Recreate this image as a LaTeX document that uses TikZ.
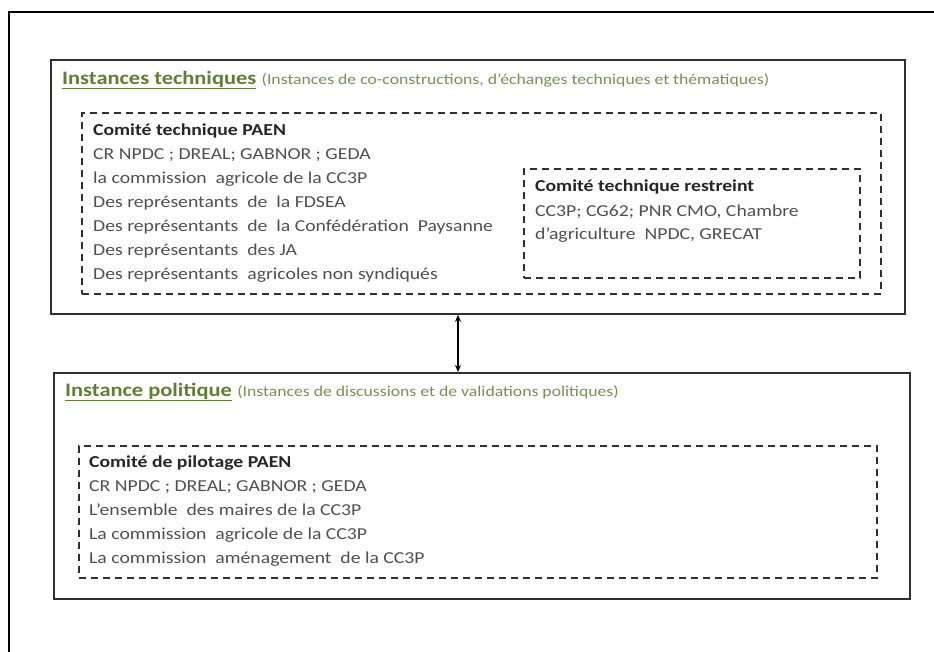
\documentclass[tikz,border=0pt]{standalone}
\usepackage{fontspec}
\setmainfont{Carlito}[FakeStretch=1.18]
\usetikzlibrary{positioning}
\usetikzlibrary{arrows.meta}

\definecolor{titlegreen}{HTML}{5F7F33}
\definecolor{bodygray}{HTML}{505050}
\definecolor{linegray}{HTML}{303030}

\begin{document}
\begin{tikzpicture}[
    x=1pt, y=-1pt,
    instbox/.style={
        draw=linegray,
        line width=1.8pt,
        anchor=north west,
        inner sep=0pt,
    },
    dashbox/.style={
        draw=linegray,
        line width=1.5pt,
        dash pattern=on 7pt off 5pt,
        anchor=north west,
        inner sep=0pt,
    },
    ttl/.style={
        anchor=west,
        inner sep=0pt,
        text=titlegreen,
        font=\fontsize{19}{22}\selectfont\bfseries,
    },
    sub/.style={
        anchor=west,
        inner sep=0pt,
        text=titlegreen!85,
        font=\fontsize{15}{17}\selectfont,
    },
    item/.style={
        anchor=base west,
        inner sep=0pt,
        text=bodygray,
        font=\fontsize{16.7}{20}\selectfont,
    },
    hd/.style={item,text=black!85,font=\fontsize{16.7}{20}\selectfont\bfseries},
]
    \useasboundingbox (0,0) rectangle (934,651);
    \fill[white] (0,0) rectangle (934,651);
    \clip (0,0) rectangle (934,651);
    % ~~~ outer frame ~~~~~~~~~~~~
    \draw[black, line width=1.3pt] (9,12) rectangle (960,680);
    % ~~~ technical instances ~~~~~~~~~~~~
    \node[instbox, minimum width=854pt, minimum height=254pt] (tech) at (50,59) {};
    \node[ttl] (techttl) at (62,80) {\underline{Instances techniques}};
    \node[sub, right=5pt of techttl] (techsub)
        {(Instances de co-constructions, d’échanges techniques et thématiques)};
    \node[dashbox, minimum width=799pt, minimum height=181pt] (ctp) at (81,112) {};
    \node[hd] (ctp-0) at (93,135) {Comité technique PAEN};
    \foreach \ln [count=\i] in {
        {CR NPDC ; DREAL; GABNOR ; GEDA},
        {la commission~ agricole de la CC3P},
        {Des représentants~ de~ la FDSEA},
        {Des représentants~ de~ la Confédération~ Paysanne},
        {Des représentants~ des JA},
        {Des représentants~ agricoles non syndiqués}}
        \node[item] (ctp-\i) at (93,{135+24*\i}) {\ln};
    \node[dashbox, minimum width=336pt, minimum height=109pt] (ctr) at (523,168) {};
    \node[hd] (ctr-0) at (535,191) {Comité technique restreint};
    \node[item] (ctr-1) at (535,216) {CC3P; CG62; PNR CMO, Chambre};
    \node[item] (ctr-2) at (535,239) {d’agriculture~ NPDC, GRECAT};
    % ~~~ political instance ~~~~~~~~~~~~
    \node[instbox, minimum width=856pt, minimum height=226pt] (pol) at (53,372) {};
    \node[ttl] (polttl) at (65,392) {\underline{Instance politique}};
    \node[sub, right=5pt of polttl] (polsub)
        {(Instances de discussions et de validations politiques)};
    \node[dashbox, minimum width=798pt, minimum height=132pt] (cpp) at (78,445) {};
    \node[hd] (cpp-0) at (89,467) {Comité de pilotage PAEN};
    \foreach \ln [count=\i] in {
        {CR NPDC ; DREAL; GABNOR ; GEDA},
        {L’ensemble~ des maires de la CC3P},
        {La commission~ agricole de la CC3P},
        {La commission~ aménagement~ de la CC3P}}
        \node[item] (cpp-\i) at (89,{467+24*\i}) {\ln};
    % ~~~ link ~~~~~~~~~~~~
    \coordinate (lnk) at (458,0);
    \draw[{Stealth[length=7pt,width=6pt]}-{Stealth[length=7pt,width=6pt]},
          line width=1.3pt, black] (tech.south -| lnk) -- (pol.north -| lnk);
\end{tikzpicture}
\end{document}
